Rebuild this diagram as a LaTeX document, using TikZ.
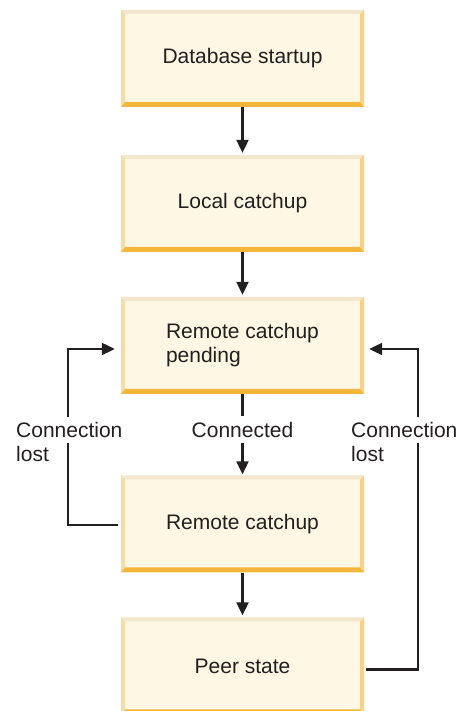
\documentclass[tikz,border=0pt]{standalone}
\usepackage{fontspec}
\setsansfont{Liberation Sans}
\usetikzlibrary{arrows.meta,positioning,calc}
\definecolor{boxfill}{HTML}{FEF7E4}
\definecolor{bevtop}{HTML}{F4E7CD}
\definecolor{bevleft}{HTML}{F4DCAC}
\definecolor{bevright}{HTML}{F8D18A}
\definecolor{bevbot}{HTML}{F4B73C}
\definecolor{ink}{HTML}{231F20}
\tikzset{
  statebox/.style={minimum width=243pt,minimum height=97pt,inner sep=0pt,
    fill=boxfill,align=left,text=ink,
    path picture={
      \coordinate (pnw) at (path picture bounding box.north west);
      \coordinate (pne) at (path picture bounding box.north east);
      \coordinate (psw) at (path picture bounding box.south west);
      \coordinate (pse) at (path picture bounding box.south east);
      \fill[bevtop] (pnw) -- (pne) -- ([shift={(-4pt,-4pt)}]pne) -- ([shift={(4pt,-4pt)}]pnw) -- cycle;
      \fill[bevleft] (pnw) -- (psw) -- ([shift={(4pt,5pt)}]psw) -- ([shift={(4pt,-4pt)}]pnw) -- cycle;
      \fill[bevright] (pne) -- (pse) -- ([shift={(-4pt,5pt)}]pse) -- ([shift={(-4pt,-4pt)}]pne) -- cycle;
      \fill[bevbot] (psw) -- (pse) -- ([shift={(-4pt,5pt)}]pse) -- ([shift={(4pt,5pt)}]psw) -- cycle;
    }},
  flow/.style={draw=ink,line width=2.2pt},
  tip/.style={-{Triangle[length=13pt,width=12pt]}},
  lbl/.style={text=ink,align=left,inner sep=0pt}
}
\begin{document}
\begin{tikzpicture}[x=1pt,y=1pt,font=\sffamily\fontsize{21}{24}\selectfont]
\useasboundingbox (0,0) rectangle (459,711);
% states, top to bottom
\node[statebox] (startup) at (242.5,652.5) {Database startup};
\node[statebox] (local) at (242.5,507.5) {Local catchup};
\node[statebox] (pending) at (242.5,365.5) {Remote catchup\\pending};
\node[statebox] (remote) at (242.5,187) {Remote catchup};
\node[statebox] (peer) at (242.5,45) {Peer state};
% labels
\node[text=ink,inner xsep=0pt,inner ysep=5.5pt] (conn) at (242.5,281.5) {Connected};
\node[lbl,anchor=north west] (lostl) at (16,289) {Connection\\lost};
\node[lbl,anchor=north west] (lostr) at (351,289) {Connection\\lost};
\coordinate (lgtop) at (68,294);
\coordinate (lgbot) at (68,268);
\coordinate (rgtop) at (418,294);
\coordinate (rgbot) at (418,268);
% straight flow
\draw[flow,tip,shorten >=2pt] (startup) -- (local);
\draw[flow,tip,shorten >=2pt] (local) -- (pending);
\draw[flow] (pending) -- (conn);
\draw[flow,tip,shorten >=1pt] (conn) -- (remote);
\draw[flow,tip,shorten >=2pt] (remote) -- (peer);
% loops back
\draw[flow,shorten <=3pt] ([yshift=-1pt]remote.west) -| (lgbot);
\draw[flow,tip,shorten >=6pt] (lgtop) |- ([yshift=-3.5pt]pending.west);
\draw[flow,shorten <=2pt] ([yshift=-3.5pt]peer.east) -| (rgbot);
\draw[flow,tip,shorten >=5pt] (rgtop) |- ([yshift=-3.5pt]pending.east);
\end{tikzpicture}
\end{document}
